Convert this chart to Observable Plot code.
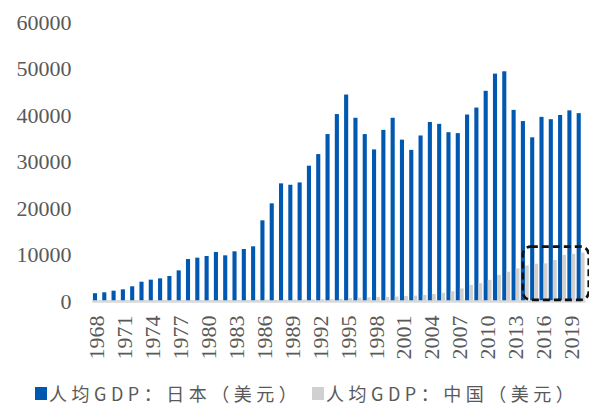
<!DOCTYPE html>
<html>
<head>
<meta charset="utf-8">
<script src="https://cdn.jsdelivr.net/npm/d3@7"></script>
<script src="https://cdn.jsdelivr.net/npm/@observablehq/plot@0.6"></script>
<style>
  html, body { margin: 0; padding: 0; background: #fff; overflow: hidden; }
  #chart svg { display: block; }
  #chart svg text { font-family: "Liberation Serif", "DejaVu Serif", serif !important; }
  #legend {
    position: relative;
    height: 20px;
    font-family: "Noto Sans CJK SC", sans-serif;
    font-size: 18px;
    line-height: 20px;
    color: #595959;
    letter-spacing: 4.5px;
    white-space: nowrap;
  }
  #legend .item { position: absolute; top: 0; display: flex; align-items: center; }
  #legend .sw { width: 12px; height: 13px; margin-right: 2px; flex: none; }
</style>
</head>
<body>
<div id="chart"></div>
<div id="legend"></div>
<script>
// Years on the x axis
const years = [
  1968, 1969, 1970, 1971, 1972, 1973, 1974, 1975, 1976, 1977,
  1978, 1979, 1980, 1981, 1982, 1983, 1984, 1985, 1986, 1987,
  1988, 1989, 1990, 1991, 1992, 1993, 1994, 1995, 1996, 1997,
  1998, 1999, 2000, 2001, 2002, 2003, 2004, 2005, 2006, 2007,
  2008, 2009, 2010, 2011, 2012, 2013, 2014, 2015, 2016, 2017,
  2018, 2019, 2020
];

// GDP per capita, Japan (USD)
const japan = [
  1670, 1870, 2220, 2510, 3160, 4150, 4590, 4870, 5380, 6590,
  9030, 9320, 9680, 10540, 9820, 10680, 11180, 11760, 17350, 21000,
  25300, 25000, 25500, 29100, 31600, 35900, 40200, 44400, 39400, 35900,
  32600, 36800, 39400, 34700, 32500, 35600, 38500, 38100, 36300, 36100,
  40100, 41600, 45200, 48900, 49400, 41100, 38700, 35200, 39600, 39100,
  40000, 41000, 40400
];

// GDP per capita, China (USD)
const china = [
  91, 100, 113, 119, 132, 157, 160, 178, 165, 185,
  156, 184, 195, 197, 203, 225, 251, 294, 282, 252,
  284, 311, 318, 333, 366, 377, 473, 610, 709, 782,
  829, 873, 959, 1053, 1149, 1289, 1509, 1753, 2099, 2694,
  3468, 3832, 4550, 5614, 6301, 7020, 7636, 8016, 8094, 8817,
  9905, 10144, 10409
];

const seriesNames = ["人均GDP：日本（美元）", "人均GDP：中国（美元）"];
const seriesColors = ["#0058b0", "#d0d0d0"];

// Labelled years and y ticks
const yearTicks = [1968, 1971, 1974, 1977, 1980, 1983, 1986, 1989, 1992, 1995, 1998, 2001, 2004, 2007, 2010, 2013, 2016, 2019];
const yTicks = [0, 10000, 20000, 30000, 40000, 50000, 60000];

// Dashed highlight around the recent years
const boxYears = [2014, 2020];
const boxRange = [250, 11700];

const japanRows = years.map((year, i) => ({year, value: japan[i]}));
const chinaRows = years.map((year, i) => ({year, value: china[i]}));

function highlightBox(index, scales) {
  const x = scales.x, y = scales.y;
  const step = x.step ? x.step() : x(boxYears[0] + 1) - x(boxYears[0]);
  const bw = x.bandwidth ? x.bandwidth() : step * 0.85;
  const left = x(boxYears[0]) + bw * 0.25;
  const right = x(boxYears[1]) + bw + step * 0.45;
  const top = y(boxRange[1]);
  const bottom = y(boxRange[0]);
  return d3.create("svg:rect")
    .attr("x", left)
    .attr("y", top)
    .attr("width", right - left)
    .attr("height", bottom - top)
    .attr("rx", 8)
    .attr("fill", "none")
    .attr("stroke", "#111")
    .attr("stroke-width", 2.6)
    .attr("stroke-dasharray", "7,4")
    .node();
}

const chart = Plot.plot({
  width: 589,
  height: 383,
  marginTop: 22,
  marginBottom: 82,
  marginLeft: 92,
  marginRight: 3.5,
  style: {
    fontFamily: "Liberation Serif, serif",
    fontSize: "22px",
    color: "#595959",
    background: "#fff"
  },
  x: {
    type: "band",
    domain: years,
    paddingInner: 0.15,
    paddingOuter: 0.1,
    round: false,
    label: null,
    tickSize: 0,
    tickPadding: 14,
    tickRotate: -90,
    tickFormat: d => yearTicks.includes(d) ? String(d) : ""
  },
  y: {
    domain: [0, 60000],
    ticks: yTicks,
    tickFormat: d => String(d),
    tickSize: 0,
    tickPadding: 21,
    label: null
  },
  marks: [
    Plot.barY(japanRows, {x: "year", y: "value", fill: seriesColors[0], insetRight: 3.8}),
    Plot.barY(chinaRows, {x: "year", y: "value", fill: seriesColors[1], insetLeft: 4.1}),
    Plot.ruleY([0], {stroke: "#d9d9d9", strokeWidth: 2.5}),
    highlightBox
  ]
});

document.getElementById("chart").appendChild(chart);

// Legend below the chart
const legendLeft = [35, 312];
const legend = d3.select("#legend");
seriesNames.forEach((name, i) => {
  const item = legend.append("div").attr("class", "item").style("left", legendLeft[i] + "px");
  item.append("span").attr("class", "sw").style("background", seriesColors[i]);
  item.append("span").text(name);
});
</script>
</body>
</html>
